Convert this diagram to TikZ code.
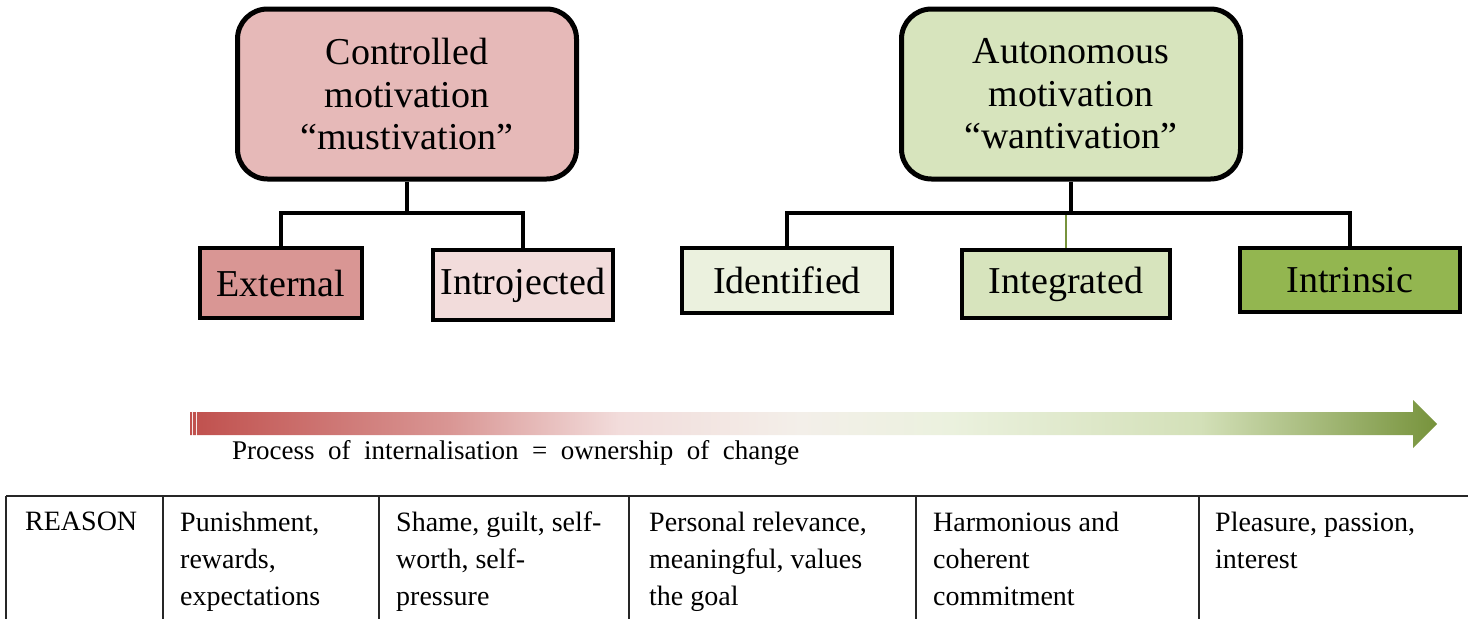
\documentclass[tikz,border=0pt]{standalone}
\usepackage{fontspec}
\setmainfont{Liberation Serif}
\usepackage{xcolor}
\usepackage{tikz}

\definecolor{ctrlFill}{HTML}{E6B9B8}
\definecolor{autoFill}{HTML}{D7E4BD}
\definecolor{extFill}{HTML}{D99694}
\definecolor{introFill}{HTML}{F2DCDB}
\definecolor{identFill}{HTML}{EBF1DE}
\definecolor{integFill}{HTML}{D7E4BD}
\definecolor{intrFill}{HTML}{93B650}
\definecolor{oliveLine}{HTML}{77933C}
\definecolor{redDeep}{HTML}{C0504D}
\definecolor{redMid}{HTML}{D99694}
\definecolor{redPale}{HTML}{F2DCDB}
\definecolor{neutral}{HTML}{F3EFE9}
\definecolor{greenPale}{HTML}{EBF1DE}
\definecolor{greenMid}{HTML}{D3E0B8}
\definecolor{greenDeep}{HTML}{77933C}

\pgfdeclarehorizontalshading{internalise}{100bp}{color(0bp)=(redDeep); color(25bp)=(redDeep); color(35.4bp)=(redMid); color(42.2bp)=(redPale); color(49.5bp)=(neutral); color(55.5bp)=(greenPale); color(65.5bp)=(greenMid); color(75bp)=(greenDeep); color(100bp)=(greenDeep)}

\begin{document}
\begin{tikzpicture}
      [ x=1pt, y=-1pt
      , topbox/.style={draw, line width=5pt, rounded corners=30pt, inner sep=0pt,
          minimum width=339pt, minimum height=170pt, align=center,
          font=\fontsize{38}{42.5}\selectfont}
      , subbox/.style={draw, line width=4pt, inner sep=0pt,
          font=\fontsize{38}{42}\selectfont}
      , link/.style={black, line width=3.3pt}
      , rule/.style={black!85, line width=1.6pt}
      , cell/.style={anchor=north west, inner sep=0pt, align=left,
          font=\fontsize{28}{37}\selectfont}
      ]
    \useasboundingbox (0,0) rectangle (1468,619);

    \node[topbox, fill=ctrlFill] (CM) at (407,94) {Controlled\\motivation\\“mustivation”};
    \node[topbox, fill=autoFill] (AM) at (1071,94) {Autonomous\\motivation\\“wantivation”};

    \node[subbox, fill=extFill, minimum width=162pt, minimum height=70pt] (Ex) at (281,283) {External};
    \node[subbox, fill=introFill, minimum width=180pt, minimum height=70pt] (In) at (523,285) {Introjected};
    \node[subbox, fill=identFill, minimum width=210pt, minimum height=65pt] (Id) at (787,280) {Identified};
    \node[subbox, fill=integFill, minimum width=208pt, minimum height=68pt] (Ig) at (1066,284) {Integrated};
    \node[subbox, fill=intrFill, minimum width=220pt, minimum height=64pt] (It) at (1350,280) {Intrinsic};

    \coordinate (CJ) at (407,213);
    \coordinate (AJ) at (1071,213);

    \draw[oliveLine, line width=2pt] (AJ) -| (Ig);
    \draw[link]
    (CM) -- (CJ) -| (Ex)
    (CJ) -| (In);
    \draw[link]
    (AM) -- (AJ) -| (Id)
    (AJ) -| (It);

    \shade[shading=internalise]
    (190,412) rectangle (192,435)
    (193,412) rectangle (196,435)
    (197,412) -- (1413,412) -- (1413,400) -- (1437,424) -- (1413,448) -- (1413,435) -- (197,435) -- cycle;
    \node[anchor=base west, inner sep=0pt, font=\fontsize{27}{30}\selectfont] (PI) at (232,459)
      {\spaceskip=13.5pt Process of internalisation = ownership of change};

    \draw[rule] (6,496) -- (1468,496);
    \draw[rule] (6,496) -- (6,619);
    \draw[rule] (163,496) -- (163,619);
    \draw[rule] (379,496) -- (379,619);
    \draw[rule] (629,496) -- (629,619);
    \draw[rule] (916,496) -- (916,619);
    \draw[rule] (1199,496) -- (1199,619);

    \node[cell] (R0) at (25,512) {REASON};
    \node[cell] (R1) at (180,512) {Punishment,\\rewards,\\expectations};
    \node[cell] (R2) at (396,512) {Shame, guilt, self-\\worth, self-\\pressure};
    \node[cell] (R3) at (649,512) {Personal relevance,\\meaningful, values\\the goal};
    \node[cell] (R4) at (933,512) {Harmonious and\\coherent\\commitment};
    \node[cell] (R5) at (1215,512) {Pleasure, passion,\\interest};
    \end{tikzpicture}
\end{document}
